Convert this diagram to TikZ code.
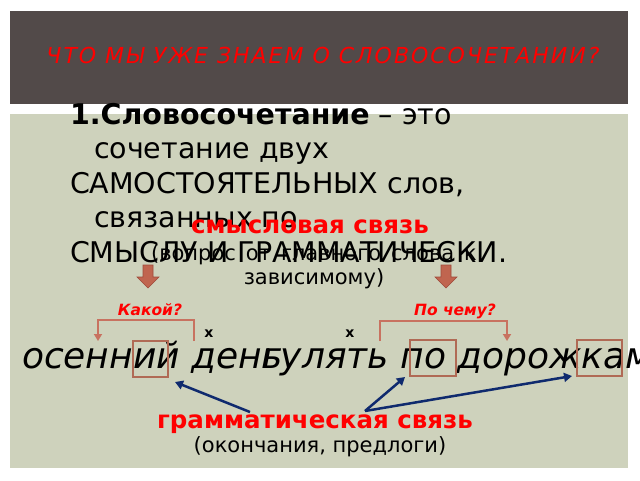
\documentclass[tikz,border=0pt]{standalone}
\usepackage{fontspec}
\setmainfont{DejaVu Sans}
\newfontfamily\titlefont[LetterSpace=9]{DejaVu Sans}
\usetikzlibrary{arrows.meta}
\definecolor{hdr}{HTML}{524A49}
\definecolor{panel}{HTML}{CED2BC}
\definecolor{brick}{HTML}{C0654F}
\definecolor{brickdark}{HTML}{9E4A3A}
\definecolor{bracketc}{HTML}{C87260}
\definecolor{boxc}{HTML}{B06A55}
\definecolor{navy}{HTML}{0F2A6E}
\definecolor{redt}{HTML}{FF0000}
\tikzset{
  txt/.style={inner sep=0pt, outer sep=0pt, anchor=base west},
  ctxt/.style={inner sep=0pt, outer sep=0pt, anchor=base},
  bodyfont/.style={font=\fontsize{28.5}{34}\selectfont},
  subfont/.style={font=\fontsize{21}{24}\selectfont},
  redbold/.style={text=redt, font=\fontsize{24.5}{28}\selectfont\bfseries},
  question/.style={text=redt, font=\fontsize{15.5}{18}\selectfont\bfseries\itshape},
  bigit/.style={font=\fontsize{36}{42}\selectfont\itshape},
  blockarrow/.style={fill=brick, draw=brickdark, line width=0.6pt},
  bracketline/.style={draw=bracketc, line width=2.2pt, -{Triangle[width=8pt,length=7pt]}},
  endbox/.style={draw=boxc, line width=1.5pt, inner sep=0pt, outer sep=0pt},
  gramarrow/.style={draw=navy, line width=2.5pt, -{Triangle[width=9pt,length=8pt]}},
  xmark/.style={inner sep=0pt, font=\fontsize{14}{16}\selectfont\bfseries, anchor=center}
}
\begin{document}
\begin{tikzpicture}[x=1pt,y=-1pt]
\useasboundingbox (0,0) rectangle (640,480);
\fill[white] (0,0) rectangle (640,480);
% header
\fill[hdr] (10,11) rectangle (628,104);
\node[ctxt, text=redt, font=\titlefont\fontsize{22}{26}\selectfont\itshape] (title) at (323,63) {ЧТО МЫ УЖЕ ЗНАЕМ О СЛОВОСОЧЕТАНИИ?};
% panel
\fill[panel] (10,114) rectangle (628,468);
% definition text
\node[txt, bodyfont] (l1) at (70,124) {\textbf{1.Словосочетание} – это};
\node[txt, bodyfont] (l2) at (94,158.5) {сочетание двух};
\node[txt, bodyfont] (l3) at (70,193) {САМОСТОЯТЕЛЬНЫХ слов,};
\node[txt, bodyfont] (l4) at (94,227.5) {связанных по};
\node[txt, bodyfont] (l5) at (70,262) {СМЫСЛУ И ГРАММАТИЧЕСКИ.};
% semantic link
\node[ctxt, redbold] (sem) at (310,233) {смысловая связь};
\node[ctxt, subfont] (q1) at (314,260) {\spaceskip=10pt (вопрос от главного слова к};
\node[ctxt, subfont] (q2) at (314,284) {зависимому)};
% block arrows
\draw[blockarrow] (143,265) -- (153,265) -- (153,277) -- (159,277) -- (148,288) -- (137,277) -- (143,277) -- cycle;
\draw[blockarrow] (441,265) -- (451,265) -- (451,277) -- (457,277) -- (446,288) -- (435,277) -- (441,277) -- cycle;
% questions
\node[ctxt, question] (kakoy) at (150,315) {Какой?};
\node[ctxt, question] (pochemu) at (455,315) {По чему?};
% brackets
\coordinate (b1s) at (194,341);
\coordinate (b1e) at (98,341);
\draw[bracketline] (b1s) -- (194,320) -- (98,320) -- (b1e);
\coordinate (b2s) at (380,341);
\coordinate (b2e) at (507,341);
\draw[bracketline] (b2s) -- (380,321) -- (507,321) -- (b2e);
\node[xmark] (x1) at (209,334) {x};
\node[xmark] (x2) at (350,334) {x};
% big phrases
\node[txt, bigit] (ph1) at (22,368) {осенний день};
\node[txt, bigit] (ph2) at (262,368) {гулять по дорожкам};
% ending boxes
\node[endbox, minimum width=35pt, minimum height=36pt] (e1) at (150.5,359) {};
\node[endbox, minimum width=46pt, minimum height=36pt] (e2) at (433,358) {};
\node[endbox, minimum width=45pt, minimum height=36pt] (e3) at (599.5,358) {};
% grammatical link
\node[ctxt, redbold] (gram) at (315,428) {грамматическая связь};
\node[ctxt, subfont] (gram2) at (320,452) {(окончания, предлоги)};
\coordinate (g1) at (250,412);
\coordinate (g2) at (365,411);
\draw[gramarrow] (g1) -- (175,382);
\draw[gramarrow] (g2) -- (405,377);
\draw[gramarrow] (g2) -- (572,376);
\end{tikzpicture}
\end{document}
